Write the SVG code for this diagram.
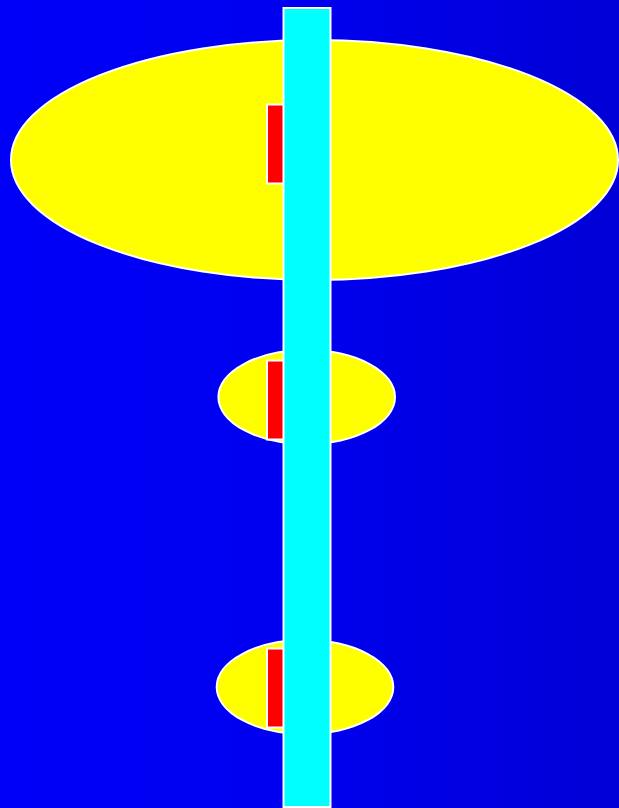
<svg xmlns="http://www.w3.org/2000/svg" width="619" height="808" viewBox="0 0 619 808">
<defs>
<linearGradient id="bg" x1="0" y1="0" x2="619" y2="0" gradientUnits="userSpaceOnUse">
<stop offset="0" stop-color="#0000f8"/>
<stop offset="0.45" stop-color="#0000f0"/>
<stop offset="1" stop-color="#0000d6"/>
</linearGradient>
</defs>
<style>
.ell{fill:#ffff00;stroke:#ffffff;stroke-width:2}
.red{fill:#ff0000;stroke:#ffffff;stroke-width:2}
.shaft{fill:#00ffff;stroke:#ffffff;stroke-width:2}
</style>
<rect x="0" y="0" width="619" height="808" fill="url(#bg)"/>
<g id="top">
<ellipse class="ell" cx="314.5" cy="160" rx="303.5" ry="120"/>
<rect class="red" x="267" y="104.5" width="24" height="79"/>
</g>
<g id="middle">
<ellipse class="ell" cx="306.7" cy="397" rx="88.3" ry="47"/>
<rect class="red" x="267" y="360.5" width="24" height="79"/>
</g>
<g id="bottom">
<ellipse class="ell" cx="305" cy="687" rx="88.3" ry="47"/>
<rect class="red" x="267" y="648.5" width="24" height="79"/>
</g>
<g id="connectors">
<rect class="shaft" x="283.5" y="8" width="47" height="799"/>
</g>
</svg>
